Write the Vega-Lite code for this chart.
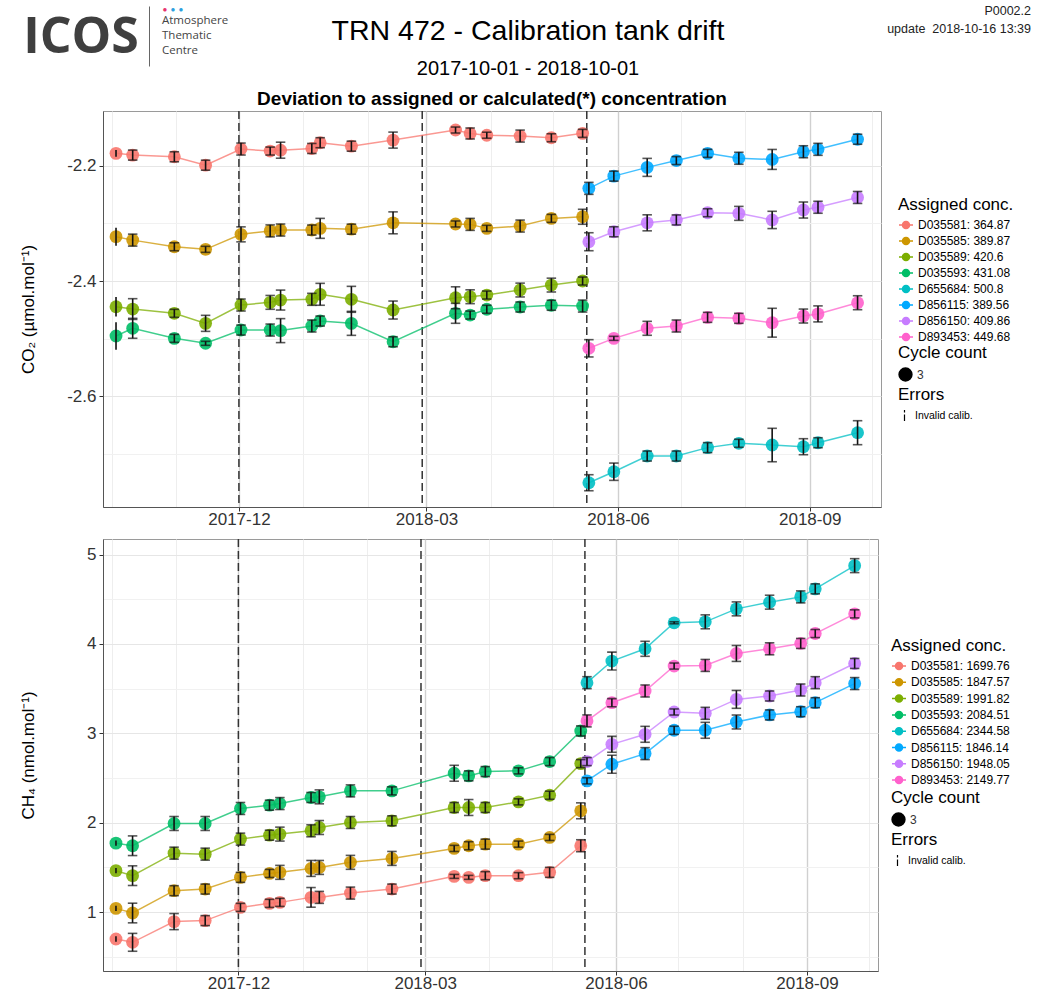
{
"$schema": "https://vega.github.io/schema/vega-lite/v6.json",
"padding": {"left": 18, "top": 5, "right": 0, "bottom": 0},
"background": "white",
"config": {
  "font": "Liberation Sans",
  "view": {"stroke": "#9a9a9a", "strokeWidth": 1},
  "axis": {"labelFont": "Liberation Sans", "titleFont": "Liberation Sans", "labelFontSize": 17, "labelColor": "#333333", "titleFontSize": 17, "titleFontWeight": "normal", "titleColor": "black", "domainColor": "#555555", "tickColor": "#333333", "tickSize": 4, "labelPadding": 0, "gridWidth": 1},
  "legend": {"titleFont": "Liberation Sans", "labelFont": "Liberation Sans", "titleFontSize": 17, "titleFontWeight": "normal", "titleColor": "black", "labelFontSize": 12, "labelColor": "black"}
},
"datasets": {
  "events": [{"d": "2017-12-01"}, {"d": "2018-02-27"}, {"d": "2018-05-17"}],
  "co2lab": [
    {"t": "D035581", "lab": "D035581: 364.87"}, {"t": "D035585", "lab": "D035585: 389.87"}, {"t": "D035589", "lab": "D035589: 420.6"}, {"t": "D035593", "lab": "D035593: 431.08"},
    {"t": "D655684", "lab": "D655684: 500.8"}, {"t": "D856115", "lab": "D856115: 389.56"}, {"t": "D856150", "lab": "D856150: 409.86"}, {"t": "D893453", "lab": "D893453: 449.68"}
  ],
  "ch4lab": [
    {"t": "D035581", "lab": "D035581: 1699.76"}, {"t": "D035585", "lab": "D035585: 1847.57"}, {"t": "D035589", "lab": "D035589: 1991.82"}, {"t": "D035593", "lab": "D035593: 2084.51"},
    {"t": "D655684", "lab": "D655684: 2344.58"}, {"t": "D856115", "lab": "D856115: 1846.14"}, {"t": "D856150", "lab": "D856150: 1948.05"}, {"t": "D893453", "lab": "D893453: 2149.77"}
  ],
  "co2": [
    {"t":"D035581","d":"2017-10-03","v":-2.1785,"e":0.006,"n":3,"f":"Invalid calib."},
    {"t":"D035581","d":"2017-10-11","v":-2.1815,"e":0.0087,"n":3},
    {"t":"D035581","d":"2017-10-31","v":-2.1844,"e":0.0087,"n":3},
    {"t":"D035581","d":"2017-11-15","v":-2.199,"e":0.0087,"n":3},
    {"t":"D035581","d":"2017-12-02","v":-2.171,"e":0.0104,"n":3},
    {"t":"D035581","d":"2017-12-16","v":-2.1745,"e":0.0069,"n":3},
    {"t":"D035581","d":"2017-12-21","v":-2.173,"e":0.0139,"n":3},
    {"t":"D035581","d":"2018-01-05","v":-2.170,"e":0.0087,"n":3},
    {"t":"D035581","d":"2018-01-09","v":-2.160,"e":0.0087,"n":3},
    {"t":"D035581","d":"2018-01-24","v":-2.166,"e":0.0087,"n":3},
    {"t":"D035581","d":"2018-02-13","v":-2.1555,"e":0.0139,"n":3},
    {"t":"D035581","d":"2018-03-15","v":-2.138,"e":0.0052,"n":3},
    {"t":"D035581","d":"2018-03-22","v":-2.144,"e":0.0095,"n":3},
    {"t":"D035581","d":"2018-03-30","v":-2.147,"e":0.0052,"n":3},
    {"t":"D035581","d":"2018-04-15","v":-2.1485,"e":0.0104,"n":3},
    {"t":"D035581","d":"2018-04-30","v":-2.1514,"e":0.0069,"n":3},
    {"t":"D035581","d":"2018-05-15","v":-2.1438,"e":0.0069,"n":3},

    {"t":"D035585","d":"2017-10-03","v":-2.323,"e":0.0156,"n":3,"f":"Invalid calib."},
    {"t":"D035585","d":"2017-10-11","v":-2.329,"e":0.0104,"n":3},
    {"t":"D035585","d":"2017-10-31","v":-2.3405,"e":0.0069,"n":3},
    {"t":"D035585","d":"2017-11-15","v":-2.345,"e":0.0052,"n":3},
    {"t":"D035585","d":"2017-12-02","v":-2.319,"e":0.013,"n":3},
    {"t":"D035585","d":"2017-12-16","v":-2.313,"e":0.0104,"n":3},
    {"t":"D035585","d":"2017-12-21","v":-2.3115,"e":0.0104,"n":3},
    {"t":"D035585","d":"2018-01-05","v":-2.3115,"e":0.0087,"n":3},
    {"t":"D035585","d":"2018-01-09","v":-2.3086,"e":0.0173,"n":3},
    {"t":"D035585","d":"2018-01-24","v":-2.310,"e":0.0087,"n":3},
    {"t":"D035585","d":"2018-02-13","v":-2.299,"e":0.019,"n":3},
    {"t":"D035585","d":"2018-03-15","v":-2.301,"e":0.0052,"n":3},
    {"t":"D035585","d":"2018-03-22","v":-2.3017,"e":0.0104,"n":3},
    {"t":"D035585","d":"2018-03-30","v":-2.3086,"e":0.0052,"n":3},
    {"t":"D035585","d":"2018-04-15","v":-2.3046,"e":0.0104,"n":3},
    {"t":"D035585","d":"2018-04-30","v":-2.2913,"e":0.0069,"n":3},
    {"t":"D035585","d":"2018-05-15","v":-2.2885,"e":0.013,"n":3},

    {"t":"D035589","d":"2017-10-03","v":-2.4446,"e":0.017,"n":3,"f":"Invalid calib."},
    {"t":"D035589","d":"2017-10-11","v":-2.4486,"e":0.018,"n":3},
    {"t":"D035589","d":"2017-10-31","v":-2.456,"e":0.0069,"n":3},
    {"t":"D035589","d":"2017-11-15","v":-2.4734,"e":0.0139,"n":3},
    {"t":"D035589","d":"2017-12-02","v":-2.4416,"e":0.0104,"n":3},
    {"t":"D035589","d":"2017-12-16","v":-2.437,"e":0.012,"n":3},
    {"t":"D035589","d":"2017-12-21","v":-2.433,"e":0.0173,"n":3},
    {"t":"D035589","d":"2018-01-05","v":-2.4317,"e":0.0104,"n":3},
    {"t":"D035589","d":"2018-01-09","v":-2.423,"e":0.019,"n":3},
    {"t":"D035589","d":"2018-01-24","v":-2.4317,"e":0.0225,"n":3},
    {"t":"D035589","d":"2018-02-13","v":-2.4503,"e":0.0156,"n":3},
    {"t":"D035589","d":"2018-03-15","v":-2.429,"e":0.019,"n":3},
    {"t":"D035589","d":"2018-03-22","v":-2.4272,"e":0.012,"n":3},
    {"t":"D035589","d":"2018-03-30","v":-2.4243,"e":0.0069,"n":3},
    {"t":"D035589","d":"2018-04-15","v":-2.4156,"e":0.012,"n":3},
    {"t":"D035589","d":"2018-04-30","v":-2.407,"e":0.012,"n":3},
    {"t":"D035589","d":"2018-05-15","v":-2.400,"e":0.0069,"n":3},

    {"t":"D035593","d":"2017-10-03","v":-2.4954,"e":0.024,"n":3,"f":"Invalid calib."},
    {"t":"D035593","d":"2017-10-11","v":-2.482,"e":0.0173,"n":3},
    {"t":"D035593","d":"2017-10-31","v":-2.4994,"e":0.0069,"n":3},
    {"t":"D035593","d":"2017-11-15","v":-2.508,"e":0.0035,"n":3},
    {"t":"D035593","d":"2017-12-02","v":-2.485,"e":0.0087,"n":3},
    {"t":"D035593","d":"2017-12-16","v":-2.485,"e":0.0104,"n":3},
    {"t":"D035593","d":"2017-12-21","v":-2.486,"e":0.0208,"n":3},
    {"t":"D035593","d":"2018-01-05","v":-2.478,"e":0.0104,"n":3},
    {"t":"D035593","d":"2018-01-09","v":-2.4694,"e":0.0087,"n":3},
    {"t":"D035593","d":"2018-01-24","v":-2.4734,"e":0.0208,"n":3},
    {"t":"D035593","d":"2018-02-13","v":-2.5053,"e":0.0087,"n":3},
    {"t":"D035593","d":"2018-03-15","v":-2.456,"e":0.0173,"n":3},
    {"t":"D035593","d":"2018-03-22","v":-2.459,"e":0.0069,"n":3},
    {"t":"D035593","d":"2018-03-30","v":-2.449,"e":0.0069,"n":3},
    {"t":"D035593","d":"2018-04-15","v":-2.445,"e":0.0087,"n":3},
    {"t":"D035593","d":"2018-04-30","v":-2.442,"e":0.0087,"n":3},
    {"t":"D035593","d":"2018-05-15","v":-2.4434,"e":0.0104,"n":3},

    {"t":"D655684","d":"2018-05-18","v":-2.7499,"e":0.0139,"n":3},
    {"t":"D655684","d":"2018-05-30","v":-2.7308,"e":0.015,"n":3},
    {"t":"D655684","d":"2018-06-15","v":-2.7036,"e":0.0087,"n":3},
    {"t":"D655684","d":"2018-06-29","v":-2.7036,"e":0.0087,"n":3},
    {"t":"D655684","d":"2018-07-14","v":-2.689,"e":0.0087,"n":3},
    {"t":"D655684","d":"2018-07-29","v":-2.6815,"e":0.0069,"n":3},
    {"t":"D655684","d":"2018-08-14","v":-2.6845,"e":0.029,"n":3},
    {"t":"D655684","d":"2018-08-29","v":-2.6874,"e":0.0139,"n":3},
    {"t":"D655684","d":"2018-09-05","v":-2.6805,"e":0.0087,"n":3},
    {"t":"D655684","d":"2018-09-24","v":-2.6631,"e":0.0208,"n":3},

    {"t":"D856115","d":"2018-05-18","v":-2.2392,"e":0.0104,"n":3},
    {"t":"D856115","d":"2018-05-30","v":-2.218,"e":0.0087,"n":3},
    {"t":"D856115","d":"2018-06-15","v":-2.2028,"e":0.0156,"n":3},
    {"t":"D856115","d":"2018-06-29","v":-2.191,"e":0.0069,"n":3},
    {"t":"D856115","d":"2018-07-14","v":-2.1785,"e":0.0069,"n":3},
    {"t":"D856115","d":"2018-07-29","v":-2.187,"e":0.0104,"n":3},
    {"t":"D856115","d":"2018-08-14","v":-2.189,"e":0.0173,"n":3},
    {"t":"D856115","d":"2018-08-29","v":-2.1757,"e":0.0104,"n":3},
    {"t":"D856115","d":"2018-09-05","v":-2.1715,"e":0.0104,"n":3},
    {"t":"D856115","d":"2018-09-24","v":-2.154,"e":0.0087,"n":3},

    {"t":"D856150","d":"2018-05-18","v":-2.3318,"e":0.0156,"n":3},
    {"t":"D856150","d":"2018-05-30","v":-2.3145,"e":0.0087,"n":3},
    {"t":"D856150","d":"2018-06-15","v":-2.299,"e":0.0139,"n":3},
    {"t":"D856150","d":"2018-06-29","v":-2.294,"e":0.0087,"n":3},
    {"t":"D856150","d":"2018-07-14","v":-2.2815,"e":0.0069,"n":3},
    {"t":"D856150","d":"2018-07-29","v":-2.2826,"e":0.0121,"n":3},
    {"t":"D856150","d":"2018-08-14","v":-2.294,"e":0.015,"n":3},
    {"t":"D856150","d":"2018-08-29","v":-2.2768,"e":0.0139,"n":3},
    {"t":"D856150","d":"2018-09-05","v":-2.272,"e":0.0104,"n":3},
    {"t":"D856150","d":"2018-09-24","v":-2.255,"e":0.0104,"n":3},

    {"t":"D893453","d":"2018-05-18","v":-2.5167,"e":0.015,"n":3},
    {"t":"D893453","d":"2018-05-30","v":-2.4994,"e":0.0035,"n":3},
    {"t":"D893453","d":"2018-06-15","v":-2.482,"e":0.0121,"n":3},
    {"t":"D893453","d":"2018-06-29","v":-2.478,"e":0.0104,"n":3},
    {"t":"D893453","d":"2018-07-14","v":-2.463,"e":0.0087,"n":3},
    {"t":"D893453","d":"2018-07-29","v":-2.4647,"e":0.0087,"n":3},
    {"t":"D893453","d":"2018-08-14","v":-2.4723,"e":0.025,"n":3},
    {"t":"D893453","d":"2018-08-29","v":-2.4607,"e":0.0121,"n":3},
    {"t":"D893453","d":"2018-09-05","v":-2.457,"e":0.0139,"n":3},
    {"t":"D893453","d":"2018-09-24","v":-2.4376,"e":0.0121,"n":3}
  ],
  "ch4": [
    {"t":"D035581","d":"2017-10-03","v":0.698,"e":0.03,"n":3,"f":"Invalid calib."},
    {"t":"D035581","d":"2017-10-11","v":0.661,"e":0.1,"n":3},
    {"t":"D035581","d":"2017-10-31","v":0.893,"e":0.09,"n":3},
    {"t":"D035581","d":"2017-11-15","v":0.904,"e":0.056,"n":3},
    {"t":"D035581","d":"2017-12-02","v":1.052,"e":0.045,"n":3},
    {"t":"D035581","d":"2017-12-16","v":1.097,"e":0.045,"n":3},
    {"t":"D035581","d":"2017-12-21","v":1.108,"e":0.045,"n":3},
    {"t":"D035581","d":"2018-01-05","v":1.164,"e":0.11,"n":3},
    {"t":"D035581","d":"2018-01-09","v":1.164,"e":0.067,"n":3},
    {"t":"D035581","d":"2018-01-24","v":1.212,"e":0.067,"n":3},
    {"t":"D035581","d":"2018-02-13","v":1.257,"e":0.056,"n":3},
    {"t":"D035581","d":"2018-03-15","v":1.399,"e":0.022,"n":3},
    {"t":"D035581","d":"2018-03-22","v":1.388,"e":0.022,"n":3},
    {"t":"D035581","d":"2018-03-30","v":1.407,"e":0.045,"n":3},
    {"t":"D035581","d":"2018-04-15","v":1.407,"e":0.034,"n":3},
    {"t":"D035581","d":"2018-04-30","v":1.444,"e":0.056,"n":3},
    {"t":"D035581","d":"2018-05-15","v":1.742,"e":0.067,"n":3},

    {"t":"D035585","d":"2017-10-03","v":1.041,"e":0.03,"n":3,"f":"Invalid calib."},
    {"t":"D035585","d":"2017-10-11","v":0.989,"e":0.11,"n":3},
    {"t":"D035585","d":"2017-10-31","v":1.239,"e":0.056,"n":3},
    {"t":"D035585","d":"2017-11-15","v":1.257,"e":0.056,"n":3},
    {"t":"D035585","d":"2017-12-02","v":1.388,"e":0.056,"n":3},
    {"t":"D035585","d":"2017-12-16","v":1.432,"e":0.045,"n":3},
    {"t":"D035585","d":"2017-12-21","v":1.444,"e":0.078,"n":3},
    {"t":"D035585","d":"2018-01-05","v":1.488,"e":0.089,"n":3},
    {"t":"D035585","d":"2018-01-09","v":1.499,"e":0.078,"n":3},
    {"t":"D035585","d":"2018-01-24","v":1.556,"e":0.078,"n":3},
    {"t":"D035585","d":"2018-02-13","v":1.600,"e":0.078,"n":3},
    {"t":"D035585","d":"2018-03-15","v":1.712,"e":0.034,"n":3},
    {"t":"D035585","d":"2018-03-22","v":1.742,"e":0.045,"n":3},
    {"t":"D035585","d":"2018-03-30","v":1.760,"e":0.056,"n":3},
    {"t":"D035585","d":"2018-04-15","v":1.760,"e":0.034,"n":3},
    {"t":"D035585","d":"2018-04-30","v":1.835,"e":0.034,"n":3},
    {"t":"D035585","d":"2018-05-15","v":2.133,"e":0.089,"n":3},

    {"t":"D035589","d":"2017-10-03","v":1.463,"e":0.03,"n":3,"f":"Invalid calib."},
    {"t":"D035589","d":"2017-10-11","v":1.407,"e":0.11,"n":3},
    {"t":"D035589","d":"2017-10-31","v":1.659,"e":0.067,"n":3},
    {"t":"D035589","d":"2017-11-15","v":1.648,"e":0.067,"n":3},
    {"t":"D035589","d":"2017-12-02","v":1.816,"e":0.067,"n":3},
    {"t":"D035589","d":"2017-12-16","v":1.860,"e":0.056,"n":3},
    {"t":"D035589","d":"2017-12-21","v":1.872,"e":0.078,"n":3},
    {"t":"D035589","d":"2018-01-05","v":1.909,"e":0.067,"n":3},
    {"t":"D035589","d":"2018-01-09","v":1.946,"e":0.078,"n":3},
    {"t":"D035589","d":"2018-01-24","v":2.002,"e":0.067,"n":3},
    {"t":"D035589","d":"2018-02-13","v":2.021,"e":0.056,"n":3},
    {"t":"D035589","d":"2018-03-15","v":2.170,"e":0.056,"n":3},
    {"t":"D035589","d":"2018-03-22","v":2.170,"e":0.089,"n":3},
    {"t":"D035589","d":"2018-03-30","v":2.170,"e":0.056,"n":3},
    {"t":"D035589","d":"2018-04-15","v":2.233,"e":0.034,"n":3},
    {"t":"D035589","d":"2018-04-30","v":2.307,"e":0.045,"n":3},
    {"t":"D035589","d":"2018-05-15","v":2.661,"e":0.045,"n":3},

    {"t":"D035593","d":"2017-10-03","v":1.771,"e":0.03,"n":3,"f":"Invalid calib."},
    {"t":"D035593","d":"2017-10-11","v":1.742,"e":0.11,"n":3},
    {"t":"D035593","d":"2017-10-31","v":1.991,"e":0.078,"n":3},
    {"t":"D035593","d":"2017-11-15","v":1.991,"e":0.078,"n":3},
    {"t":"D035593","d":"2017-12-02","v":2.159,"e":0.067,"n":3},
    {"t":"D035593","d":"2017-12-16","v":2.196,"e":0.056,"n":3},
    {"t":"D035593","d":"2017-12-21","v":2.214,"e":0.067,"n":3},
    {"t":"D035593","d":"2018-01-05","v":2.282,"e":0.056,"n":3},
    {"t":"D035593","d":"2018-01-09","v":2.289,"e":0.078,"n":3},
    {"t":"D035593","d":"2018-01-24","v":2.356,"e":0.067,"n":3},
    {"t":"D035593","d":"2018-02-13","v":2.356,"e":0.045,"n":3},
    {"t":"D035593","d":"2018-03-15","v":2.553,"e":0.089,"n":3},
    {"t":"D035593","d":"2018-03-22","v":2.524,"e":0.056,"n":3},
    {"t":"D035593","d":"2018-03-30","v":2.572,"e":0.056,"n":3},
    {"t":"D035593","d":"2018-04-15","v":2.580,"e":0.034,"n":3},
    {"t":"D035593","d":"2018-04-30","v":2.684,"e":0.045,"n":3},
    {"t":"D035593","d":"2018-05-15","v":3.027,"e":0.056,"n":3},

    {"t":"D655684","d":"2018-05-18","v":3.567,"e":0.067,"n":3},
    {"t":"D655684","d":"2018-05-30","v":3.809,"e":0.1,"n":3},
    {"t":"D655684","d":"2018-06-15","v":3.946,"e":0.084,"n":3},
    {"t":"D655684","d":"2018-06-29","v":4.237,"e":0.011,"n":3},
    {"t":"D655684","d":"2018-07-14","v":4.248,"e":0.078,"n":3},
    {"t":"D655684","d":"2018-07-29","v":4.393,"e":0.078,"n":3},
    {"t":"D655684","d":"2018-08-14","v":4.468,"e":0.078,"n":3},
    {"t":"D655684","d":"2018-08-29","v":4.527,"e":0.067,"n":3},
    {"t":"D655684","d":"2018-09-05","v":4.617,"e":0.056,"n":3},
    {"t":"D655684","d":"2018-09-24","v":4.877,"e":0.078,"n":3},

    {"t":"D856115","d":"2018-05-18","v":2.468,"e":0.034,"n":3},
    {"t":"D856115","d":"2018-05-30","v":2.654,"e":0.1,"n":3},
    {"t":"D856115","d":"2018-06-15","v":2.773,"e":0.067,"n":3},
    {"t":"D856115","d":"2018-06-29","v":3.034,"e":0.045,"n":3},
    {"t":"D856115","d":"2018-07-14","v":3.034,"e":0.089,"n":3},
    {"t":"D856115","d":"2018-07-29","v":3.127,"e":0.078,"n":3},
    {"t":"D856115","d":"2018-08-14","v":3.206,"e":0.056,"n":3},
    {"t":"D856115","d":"2018-08-29","v":3.242,"e":0.056,"n":3},
    {"t":"D856115","d":"2018-09-05","v":3.343,"e":0.056,"n":3},
    {"t":"D856115","d":"2018-09-24","v":3.557,"e":0.067,"n":3},

    {"t":"D856150","d":"2018-05-18","v":2.684,"e":0.045,"n":3},
    {"t":"D856150","d":"2018-05-30","v":2.877,"e":0.089,"n":3},
    {"t":"D856150","d":"2018-06-15","v":2.989,"e":0.089,"n":3},
    {"t":"D856150","d":"2018-06-29","v":3.239,"e":0.034,"n":3},
    {"t":"D856150","d":"2018-07-14","v":3.224,"e":0.067,"n":3},
    {"t":"D856150","d":"2018-07-29","v":3.380,"e":0.1,"n":3},
    {"t":"D856150","d":"2018-08-14","v":3.418,"e":0.056,"n":3},
    {"t":"D856150","d":"2018-08-29","v":3.485,"e":0.067,"n":3},
    {"t":"D856150","d":"2018-09-05","v":3.567,"e":0.067,"n":3},
    {"t":"D856150","d":"2018-09-24","v":3.782,"e":0.056,"n":3},

    {"t":"D893453","d":"2018-05-18","v":3.139,"e":0.067,"n":3},
    {"t":"D893453","d":"2018-05-30","v":3.343,"e":0.045,"n":3},
    {"t":"D893453","d":"2018-06-15","v":3.474,"e":0.067,"n":3},
    {"t":"D893453","d":"2018-06-29","v":3.753,"e":0.034,"n":3},
    {"t":"D893453","d":"2018-07-14","v":3.760,"e":0.067,"n":3},
    {"t":"D893453","d":"2018-07-29","v":3.894,"e":0.089,"n":3},
    {"t":"D893453","d":"2018-08-14","v":3.946,"e":0.067,"n":3},
    {"t":"D893453","d":"2018-08-29","v":4.006,"e":0.056,"n":3},
    {"t":"D893453","d":"2018-09-05","v":4.117,"e":0.045,"n":3},
    {"t":"D893453","d":"2018-09-24","v":4.337,"e":0.045,"n":3}
  ]
},
"spacing": 9,
"resolve": {"scale": {"x": "independent", "y": "independent", "color": "independent", "size": "independent", "opacity": "independent"}},
"vconcat": [
  {
    "hconcat": [
      {
        "width": 46, "height": 74,
        "view": {"stroke": null},
        "data": {"values": [{"s": "ICOS"}]},
        "mark": {"type": "text", "font": "Open Sans", "fontSize": 50, "fontWeight": 700, "color": "#3f3f3f", "dx": -45, "dy": -5},
        "encoding": {"text": {"field": "s"}}
      },
      {
        "width": 100, "height": 60,
        "view": {"stroke": null},
        "layer": [
          {
            "data": {"values": [{"k": 1, "s": "Atmosphere"}, {"k": 2, "s": "Thematic"}, {"k": 3, "s": "Centre"}]},
            "mark": {"type": "text", "align": "left", "fontSize": 11.5, "font": "Open Sans", "color": "#444444", "dx": -37},
            "encoding": {
              "y": {"field": "k", "type": "ordinal", "scale": {"type": "point", "padding": 1.3}, "axis": {"labels": false, "ticks": false, "domain": true, "domainColor": "#666666", "title": null, "grid": false, "minExtent": 0, "maxExtent": 0}},
              "text": {"field": "s"}
            }
          },
          {"data": {"values": [{"s": "\u25cf"}]}, "mark": {"type": "text", "fontSize": 8, "color": "#e8336f", "dx": -34, "dy": -26}, "encoding": {"text": {"field": "s"}}},
          {"data": {"values": [{"s": "\u25cf"}]}, "mark": {"type": "text", "fontSize": 8, "color": "#2d9fe0", "dx": -26, "dy": -26}, "encoding": {"text": {"field": "s"}}},
          {"data": {"values": [{"s": "\u25cf"}]}, "mark": {"type": "text", "fontSize": 8, "color": "#2d9fe0", "dx": -18, "dy": -26}, "encoding": {"text": {"field": "s"}}}
        ]
      },
      {
        "width": 558, "height": 74,
        "view": {"stroke": null},
        "layer": [
          {"data": {"values": [{"s": "TRN 472 - Calibration tank drift"}]}, "mark": {"type": "text", "fontSize": 28.5, "color": "black", "dy": -12}, "encoding": {"text": {"field": "s"}}},
          {"data": {"values": [{"s": "2017-10-01 - 2018-10-01"}]}, "mark": {"type": "text", "fontSize": 20, "color": "black", "dy": 26}, "encoding": {"text": {"field": "s"}}}
        ]
      },
      {
        "width": 224, "height": 74,
        "view": {"stroke": null},
        "layer": [
          {"data": {"values": [{"s": "P0002.2"}]}, "mark": {"type": "text", "fontSize": 12.5, "align": "right", "color": "#222222", "dx": 112, "dy": -32}, "encoding": {"text": {"field": "s"}}},
          {"data": {"values": [{"s": "update\u00a0 2018-10-16 13:39"}]}, "mark": {"type": "text", "fontSize": 12.5, "align": "right", "color": "#222222", "dx": 112, "dy": -14}, "encoding": {"text": {"field": "s"}}}
        ]
      }
    ],
    "spacing": 0,
    "bounds": "flush"
  },
  {
    "width": 778, "height": 396,
    "title": {"text": "Deviation to assigned or calculated(*) concentration", "fontSize": 19, "fontWeight": "bold", "color": "black", "offset": 1, "anchor": "middle"},
    "data": {"name": "co2"},
    "transform": [{"lookup": "t", "from": {"data": {"name": "co2lab"}, "key": "t", "fields": ["lab"]}}],
    "encoding": {
      "x": {
        "field": "d", "type": "temporal", "title": null,
        "scale": {"type": "utc", "domain": [{"year": 2017, "month": 9, "date": 26, "hours": 18, "utc": true}, {"year": 2018, "month": 10, "date": 5, "hours": 6, "utc": true}]},
        "axis": {
          "values": [
            {"year": 2017, "month": 10, "date": 1, "utc": true}, {"year": 2017, "month": 11, "date": 1, "utc": true}, {"year": 2017, "month": 12, "date": 1, "utc": true},
            {"year": 2018, "month": 1, "date": 1, "utc": true}, {"year": 2018, "month": 2, "date": 1, "utc": true}, {"year": 2018, "month": 3, "date": 1, "utc": true},
            {"year": 2018, "month": 4, "date": 1, "utc": true}, {"year": 2018, "month": 5, "date": 1, "utc": true}, {"year": 2018, "month": 6, "date": 1, "utc": true},
            {"year": 2018, "month": 7, "date": 1, "utc": true}, {"year": 2018, "month": 8, "date": 1, "utc": true}, {"year": 2018, "month": 9, "date": 1, "utc": true},
            {"year": 2018, "month": 10, "date": 1, "utc": true}
          ],
          "labelExpr": "utcmonth(datum.value) % 3 == 2 ? utcFormat(datum.value, '%Y-%m') : ''",
          "labelOverlap": false, "labelFlush": false,
          "tickOpacity": {"condition": {"test": "utcmonth(datum.value) % 3 != 2", "value": 0}, "value": 1},
          "gridColor": {"condition": {"test": "utcmonth(datum.value) % 3 == 2", "value": "#d0d0d0"}, "value": "#eeeeee"},
          "gridWidth": {"condition": {"test": "utcmonth(datum.value) % 3 == 2", "value": 1.4}, "value": 1}
        }
      }
    },
    "layer": [
      {"data": {"name": "events"}, "mark": {"type": "rule", "strokeDash": [8, 4], "strokeWidth": 1.5, "color": "#333333"}, "encoding": {}},
      {
        "mark": {"type": "line", "strokeWidth": 1.5, "opacity": 0.75},
        "encoding": {
          "y": {"field": "v", "type": "quantitative", "title": "CO\u2082 (\u00b5mol.mol\u207b\u00b9)", "scale": {"domain": [-2.792, -2.105], "nice": false, "zero": false},
            "axis": {"values": [-2.7, -2.6, -2.5, -2.4, -2.3, -2.2], "labelExpr": "abs(round(datum.value*10)) % 2 == 0 ? replace(format(datum.value, '.1f'), '\u2212', '-') : ''", "tickOpacity": {"condition": {"test": "abs(round(datum.value*10)) % 2 == 1", "value": 0}, "value": 1}, "gridColor": {"condition": {"test": "abs(round(datum.value*10)) % 2 == 1", "value": "#f1f1f1"}, "value": "#e6e6e6"}, "minExtent": 39, "maxExtent": 39, "titlePadding": 27, "labelPadding": 3}},
          "color": {"field": "lab", "type": "nominal", "scale": {"range": ["#F8766D", "#CD9600", "#7CAE00", "#00BE67", "#00BFC4", "#00A9FF", "#C77CFF", "#FF61CC"]},
            "legend": {"title": "Assigned conc.", "orient": "none", "legendX": 795, "legendY": 86, "symbolType": "M-1,0L1,0M-0.5,0A0.5,0.5 0 1,0 0.5,0A0.5,0.5 0 1,0 -0.5,0", "symbolSize": 196, "symbolStrokeWidth": 1.5, "symbolOpacity": 1, "rowPadding": 1, "titlePadding": 3}}
        }
      },
      {
        "mark": {"type": "circle", "opacity": 0.9, "color": "black"},
        "encoding": {
          "y": {"field": "v", "type": "quantitative", "title": "CO\u2082 (\u00b5mol.mol\u207b\u00b9)", "scale": {"domain": [-2.792, -2.105], "nice": false, "zero": false},
            "axis": {"values": [-2.7, -2.6, -2.5, -2.4, -2.3, -2.2], "labelExpr": "abs(round(datum.value*10)) % 2 == 0 ? replace(format(datum.value, '.1f'), '\u2212', '-') : ''", "tickOpacity": {"condition": {"test": "abs(round(datum.value*10)) % 2 == 1", "value": 0}, "value": 1}, "gridColor": {"condition": {"test": "abs(round(datum.value*10)) % 2 == 1", "value": "#f1f1f1"}, "value": "#e6e6e6"}, "minExtent": 39, "maxExtent": 39, "titlePadding": 27, "labelPadding": 3}},
          "color": {"field": "lab", "type": "nominal", "scale": {"range": ["#F8766D", "#CD9600", "#7CAE00", "#00BE67", "#00BFC4", "#00A9FF", "#C77CFF", "#FF61CC"]},
            "legend": {"title": "Assigned conc.", "orient": "none", "legendX": 795, "legendY": 86, "symbolType": "M-1,0L1,0M-0.5,0A0.5,0.5 0 1,0 0.5,0A0.5,0.5 0 1,0 -0.5,0", "symbolSize": 196, "symbolStrokeWidth": 1.5, "symbolOpacity": 1, "rowPadding": 1, "titlePadding": 3}},
          "size": {"field": "n", "type": "quantitative", "scale": {"domain": [0, 3], "range": [0, 165]}, "legend": {"title": "Cycle count", "values": [3], "format": "d", "orient": "none", "legendX": 795, "legendY": 234, "symbolFillColor": "black", "symbolStrokeColor": "black", "symbolOpacity": 1, "labelFontSize": 12, "labelColor": "#333333"}}
        }
      },
      {
        "transform": [{"filter": "!datum.f"}],
        "mark": {"type": "errorbar", "ticks": {"size": 9.5, "thickness": 1.6, "color": "#111111"}, "rule": {"strokeWidth": 1.6, "color": "#111111"}},
        "encoding": {
          "y": {"field": "v", "type": "quantitative", "title": "CO\u2082 (\u00b5mol.mol\u207b\u00b9)"},
          "yError": {"field": "e"}
        }
      },
      {
        "transform": [{"filter": "datum.f"}],
        "mark": {"type": "errorbar", "rule": {"strokeWidth": 1.6, "color": "#111111"}},
        "encoding": {
          "y": {"field": "v", "type": "quantitative", "title": "CO\u2082 (\u00b5mol.mol\u207b\u00b9)"},
          "yError": {"field": "e"},
          "opacity": {"field": "f", "type": "ordinal", "scale": {"range": [1]}, "legend": {"title": "Errors", "orient": "none", "legendX": 795, "legendY": 276, "symbolType": "M0,-1L0,-0.55M0,-0.2L0,1", "symbolStrokeColor": "black", "symbolStrokeWidth": 1.2, "symbolSize": 120, "labelFontSize": 10.5}}
        }
      }
    ]
  },
  {
    "width": 775, "height": 432,
    "data": {"name": "ch4"},
    "transform": [{"lookup": "t", "from": {"data": {"name": "ch4lab"}, "key": "t", "fields": ["lab"]}}],
    "encoding": {
      "x": {
        "field": "d", "type": "temporal", "title": null,
        "scale": {"type": "utc", "domain": [{"year": 2017, "month": 9, "date": 26, "hours": 18, "utc": true}, {"year": 2018, "month": 10, "date": 5, "hours": 6, "utc": true}]},
        "axis": {
          "values": [
            {"year": 2017, "month": 10, "date": 1, "utc": true}, {"year": 2017, "month": 11, "date": 1, "utc": true}, {"year": 2017, "month": 12, "date": 1, "utc": true},
            {"year": 2018, "month": 1, "date": 1, "utc": true}, {"year": 2018, "month": 2, "date": 1, "utc": true}, {"year": 2018, "month": 3, "date": 1, "utc": true},
            {"year": 2018, "month": 4, "date": 1, "utc": true}, {"year": 2018, "month": 5, "date": 1, "utc": true}, {"year": 2018, "month": 6, "date": 1, "utc": true},
            {"year": 2018, "month": 7, "date": 1, "utc": true}, {"year": 2018, "month": 8, "date": 1, "utc": true}, {"year": 2018, "month": 9, "date": 1, "utc": true},
            {"year": 2018, "month": 10, "date": 1, "utc": true}
          ],
          "labelExpr": "utcmonth(datum.value) % 3 == 2 ? utcFormat(datum.value, '%Y-%m') : ''",
          "labelOverlap": false, "labelFlush": false,
          "tickOpacity": {"condition": {"test": "utcmonth(datum.value) % 3 != 2", "value": 0}, "value": 1},
          "gridColor": {"condition": {"test": "utcmonth(datum.value) % 3 == 2", "value": "#d0d0d0"}, "value": "#eeeeee"},
          "gridWidth": {"condition": {"test": "utcmonth(datum.value) % 3 == 2", "value": 1.4}, "value": 1}
        }
      }
    },
    "layer": [
      {"data": {"name": "events"}, "mark": {"type": "rule", "strokeDash": [8, 4], "strokeWidth": 1.5, "color": "#333333"}, "encoding": {}},
      {
        "mark": {"type": "line", "strokeWidth": 1.5, "opacity": 0.75},
        "encoding": {
          "y": {"field": "v", "type": "quantitative", "title": "CH\u2084 (nmol.mol\u207b\u00b9)", "scale": {"domain": [0.34, 5.175], "nice": false, "zero": false},
            "axis": {"values": [0.5, 1, 1.5, 2, 2.5, 3, 3.5, 4, 4.5, 5], "labelExpr": "datum.value % 1 == 0 ? format(datum.value, 'd') : ''", "tickOpacity": {"condition": {"test": "datum.value % 1 != 0", "value": 0}, "value": 1}, "gridColor": {"condition": {"test": "datum.value % 1 != 0", "value": "#f1f1f1"}, "value": "#e6e6e6"}, "minExtent": 39, "maxExtent": 39, "titlePadding": 27, "labelPadding": 3}},
          "color": {"field": "lab", "type": "nominal", "scale": {"range": ["#F8766D", "#CD9600", "#7CAE00", "#00BE67", "#00BFC4", "#00A9FF", "#C77CFF", "#FF61CC"]},
            "legend": {"title": "Assigned conc.", "orient": "none", "legendX": 788, "legendY": 99, "symbolType": "M-1,0L1,0M-0.5,0A0.5,0.5 0 1,0 0.5,0A0.5,0.5 0 1,0 -0.5,0", "symbolSize": 196, "symbolStrokeWidth": 1.5, "symbolOpacity": 1, "rowPadding": 1.3, "titlePadding": 3}}
        }
      },
      {
        "mark": {"type": "circle", "opacity": 0.9, "color": "black"},
        "encoding": {
          "y": {"field": "v", "type": "quantitative", "title": "CH\u2084 (nmol.mol\u207b\u00b9)", "scale": {"domain": [0.34, 5.175], "nice": false, "zero": false},
            "axis": {"values": [0.5, 1, 1.5, 2, 2.5, 3, 3.5, 4, 4.5, 5], "labelExpr": "datum.value % 1 == 0 ? format(datum.value, 'd') : ''", "tickOpacity": {"condition": {"test": "datum.value % 1 != 0", "value": 0}, "value": 1}, "gridColor": {"condition": {"test": "datum.value % 1 != 0", "value": "#f1f1f1"}, "value": "#e6e6e6"}, "minExtent": 39, "maxExtent": 39, "titlePadding": 27, "labelPadding": 3}},
          "color": {"field": "lab", "type": "nominal", "scale": {"range": ["#F8766D", "#CD9600", "#7CAE00", "#00BE67", "#00BFC4", "#00A9FF", "#C77CFF", "#FF61CC"]},
            "legend": {"title": "Assigned conc.", "orient": "none", "legendX": 788, "legendY": 99, "symbolType": "M-1,0L1,0M-0.5,0A0.5,0.5 0 1,0 0.5,0A0.5,0.5 0 1,0 -0.5,0", "symbolSize": 196, "symbolStrokeWidth": 1.5, "symbolOpacity": 1, "rowPadding": 1.3, "titlePadding": 3}},
          "size": {"field": "n", "type": "quantitative", "scale": {"domain": [0, 3], "range": [0, 165]}, "legend": {"title": "Cycle count", "values": [3], "format": "d", "orient": "none", "legendX": 788, "legendY": 251, "symbolFillColor": "black", "symbolStrokeColor": "black", "symbolOpacity": 1, "labelFontSize": 12, "labelColor": "#333333"}}
        }
      },
      {
        "transform": [{"filter": "!datum.f"}],
        "mark": {"type": "errorbar", "ticks": {"size": 9.5, "thickness": 1.6, "color": "#111111"}, "rule": {"strokeWidth": 1.6, "color": "#111111"}},
        "encoding": {
          "y": {"field": "v", "type": "quantitative", "title": "CH\u2084 (nmol.mol\u207b\u00b9)"},
          "yError": {"field": "e"}
        }
      },
      {
        "transform": [{"filter": "datum.f"}],
        "mark": {"type": "errorbar", "rule": {"strokeWidth": 1.6, "color": "#111111"}},
        "encoding": {
          "y": {"field": "v", "type": "quantitative", "title": "CH\u2084 (nmol.mol\u207b\u00b9)"},
          "yError": {"field": "e"},
          "opacity": {"field": "f", "type": "ordinal", "scale": {"range": [1]}, "legend": {"title": "Errors", "orient": "none", "legendX": 788, "legendY": 293, "symbolType": "M0,-1L0,-0.55M0,-0.2L0,1", "symbolStrokeColor": "black", "symbolStrokeWidth": 1.2, "symbolSize": 120, "labelFontSize": 10.5}}
        }
      }
    ]
  }
]
}
